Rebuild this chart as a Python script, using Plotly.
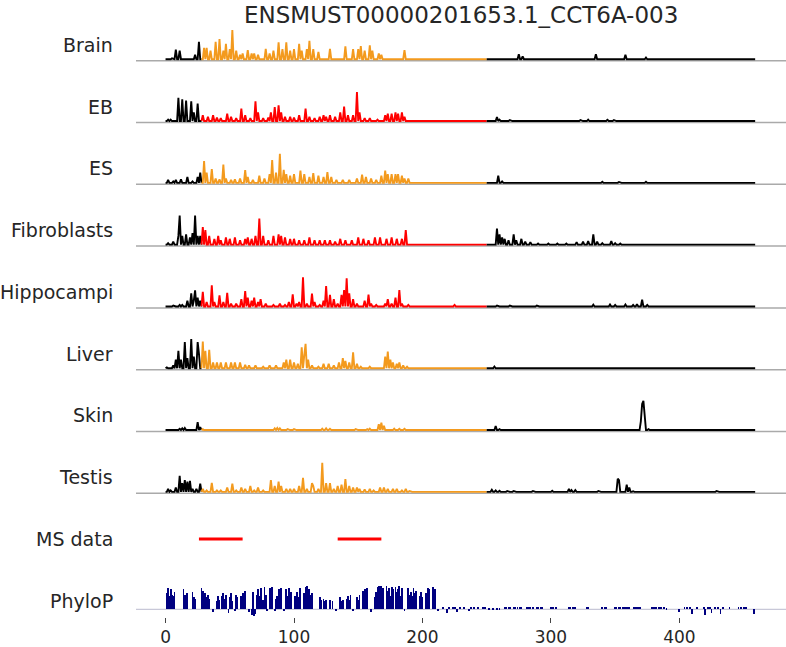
import numpy as np
import plotly.graph_objects as go

TITLE = "ENSMUST00000201653.1_CCT6A-003"
TRANSCRIPT_LEN = 460
ORF_START, ORF_END = 28, 250
TISSUES = ["Brain", "EB", "ES", "Fibroblasts", "Hippocampi", "Liver", "Skin", "Testis"]
ORANGE, RED = "#f39a1e", "#ff0000"
ORF_COLORS = [ORANGE, RED, ORANGE, RED, RED, ORANGE, ORANGE, ORANGE]
XTICKS = [0, 100, 200, 300, 400]

# ---- ribosome-profile read peaks (position, relative height) ----
BRAIN_POS = [5, 8, 11, 23, 26,
             30, 32, 35, 39, 42, 45, 47, 50, 52, 55, 58, 60, 64, 67, 69, 72, 78, 81, 84, 88, 91, 94, 97,
             100, 104, 106, 110, 112, 115, 119, 128, 140, 146, 150, 152, 155, 159, 161, 166, 168, 186,
             275, 278, 335, 358, 374]
BRAIN_VAL = [0.03, 0.33, 0.3, 0.15, 0.6,
             0.39, 0.39, 0.3, 0.6, 0.69, 0.3, 0.53, 0.35, 1.0, 0.3, 0.15, 0.2, 0.31, 0.2, 0.2, 0.15, 0.36, 0.2, 0.3, 0.58, 0.35, 0.58, 0.3,
             0.35, 0.53, 0.3, 0.35, 0.63, 0.35, 0.25, 0.36, 0.44, 0.35, 0.35, 0.45, 0.3, 0.48, 0.3, 0.2, 0.15, 0.31,
             0.17, 0.1, 0.17, 0.15, 0.06]

EB_POS = [2, 4, 10, 13, 16, 20, 22, 25,
          29, 33, 37, 40, 43, 48, 51, 55, 59, 62, 66, 70, 72, 76, 80, 82, 85, 88, 90, 93, 97, 100, 104, 109,
          112, 116, 120, 123, 125, 128, 132, 136, 139, 142, 146, 149, 151, 155, 159, 165, 171, 173, 176, 179,
          181, 184, 186,
          258, 260, 268, 276, 294, 323, 329, 344, 349, 364]
EB_VAL = [0.05, 0.05, 0.8, 0.75, 0.7, 0.68, 0.3, 0.6,
          0.2, 0.15, 0.2, 0.12, 0.1, 0.25, 0.15, 0.1, 0.43, 0.2, 0.1, 0.68, 0.3, 0.1, 0.12, 0.3, 0.48, 0.54, 0.3, 0.15, 0.15, 0.12, 0.2, 0.43,
          0.15, 0.1, 0.15, 0.2, 0.15, 0.2, 0.15, 0.3, 0.5, 0.2, 0.2, 1.0, 0.3, 0.1, 0.1, 0.05, 0.2, 0.25, 0.25, 0.3,
          0.25, 0.3, 0.15,
          0.14, 0.05, 0.03, 0.02, 0.02, 0.03, 0.05, 0.04, 0.03, 0.02]

ES_POS = [2, 6, 8, 12, 17, 21, 25, 27,
          30, 32, 36, 39, 42, 45, 47, 51, 54, 58, 62, 64, 68, 73, 77, 81, 83, 86, 89, 92, 94, 97, 100, 105,
          108, 112, 115, 119, 123, 126, 129, 133, 138, 143, 149, 153, 156, 160, 164, 168, 171, 173, 176, 179,
          181, 184, 186, 189, 210,
          259, 262, 280, 300, 320, 340, 353, 364, 374]
ES_VAL = [0.1, 0.05, 0.1, 0.12, 0.2, 0.05, 0.2, 0.35,
          0.75, 0.35, 0.47, 0.15, 0.12, 0.63, 0.15, 0.1, 0.12, 0.15, 0.44, 0.2, 0.1, 0.25, 0.15, 0.3, 0.78, 0.35, 1.0, 0.45, 0.3, 0.25, 0.3, 0.42,
          0.3, 0.2, 0.33, 0.25, 0.2, 0.37, 0.2, 0.1, 0.1, 0.1, 0.15, 0.28, 0.2, 0.15, 0.1, 0.25, 0.42, 0.3, 0.3, 0.3,
          0.3, 0.25, 0.15, 0.15, 0.02,
          0.25, 0.05, 0.02, 0.02, 0.02, 0.04, 0.03, 0.02, 0.04]

FIB_POS = [2, 6, 10, 11, 13, 16, 19, 21, 23, 25, 27,
           29, 31, 34, 38, 41, 43, 47, 50, 54, 58, 62, 64, 67, 70, 73, 76, 80, 84, 88, 90, 93, 97, 100, 104,
           108, 112, 116, 120, 124, 128, 132, 136, 140, 145, 150, 154, 158, 163, 167, 172, 176, 180, 184, 187,
           258, 260, 262, 264, 267, 271, 273, 277, 280, 284, 290, 298, 305, 312, 320, 325, 329, 333, 336, 340,
           347, 350, 354]
FIB_VAL = [0.05, 0.1, 0.3, 1.0, 0.3, 0.35, 0.25, 0.4, 1.0, 0.3, 0.3,
           0.6, 0.5, 0.3, 0.2, 0.3, 0.15, 0.25, 0.2, 0.25, 0.15, 0.2, 0.25, 0.2, 0.3, 0.9, 0.3, 0.15, 0.3, 0.35, 0.3, 0.25, 0.2, 0.2, 0.15,
           0.15, 0.25, 0.15, 0.15, 0.15, 0.15, 0.1, 0.2, 0.15, 0.15, 0.25, 0.2, 0.15, 0.25, 0.25, 0.2, 0.25, 0.2, 0.2, 0.5,
           0.55, 0.35, 0.25, 0.2, 0.15, 0.35, 0.15, 0.2, 0.1, 0.08, 0.04, 0.04, 0.04, 0.04, 0.08, 0.1, 0.12, 0.35, 0.1, 0.05,
           0.12, 0.05, 0.04]

HIP_POS = [2, 6, 11, 13, 17, 20, 22, 23, 25, 27,
           29, 32, 36, 38, 42, 45, 48, 51, 55, 59, 62, 64, 67, 69, 72, 74, 78, 84, 89, 93, 96, 99, 102, 104,
           107, 110, 114, 116, 120, 123, 125, 128, 131, 134, 137, 139, 141, 143, 146, 149, 155, 158, 160, 164,
           171, 173, 176, 179, 182, 184, 189, 225,
           258, 268, 279, 289, 299, 333, 346, 350, 358, 364, 367, 371, 375, 380]
HIP_VAL = [0.02, 0.03, 0.05, 0.05, 0.2, 0.45, 0.2, 0.55, 0.3, 0.2,
           0.5, 0.15, 0.73, 0.15, 0.38, 0.15, 0.47, 0.1, 0.1, 0.25, 0.53, 0.3, 0.2, 0.3, 0.15, 0.25, 0.1, 0.05, 0.1, 0.05, 0.15, 0.42, 0.1, 0.15,
           1.0, 0.1, 0.44, 0.15, 0.05, 0.2, 0.7, 0.4, 0.25, 0.1, 0.4, 0.56, 0.97, 0.45, 0.25, 0.1, 0.2, 0.41, 0.1, 0.05,
           0.1, 0.25, 0.1, 0.3, 0.56, 0.1, 0.05, 0.05,
           0.03, 0.03, 0.02, 0.03, 0.01, 0.06, 0.07, 0.05, 0.07, 0.05, 0.08, 0.23, 0.05, 0.02]

LIVER_POS = [1, 6, 8, 10, 12, 15, 17, 20, 22, 25, 26,
             29, 31, 34, 37, 40, 43, 47, 51, 54, 58, 62, 65, 70, 76, 81, 86, 92, 94, 97, 100, 103, 106, 108,
             109, 111, 114, 119, 123, 127, 131, 135, 138, 140, 143, 146, 149, 152, 159, 171, 173, 175, 177, 180,
             182, 185, 188,
             256, 270, 290, 310, 330, 350]
LIVER_VAL = [0.03, 0.1, 0.3, 0.6, 0.3, 0.9, 0.35, 1.0, 0.4, 0.9, 0.5,
             0.92, 0.6, 0.63, 0.2, 0.2, 0.2, 0.2, 0.2, 0.2, 0.2, 0.12, 0.1, 0.1, 0.05, 0.1, 0.1, 0.2, 0.3, 0.3, 0.2, 0.15, 0.72, 0.45,
             0.84, 0.3, 0.1, 0.05, 0.15, 0.15, 0.1, 0.2, 0.35, 0.25, 0.2, 0.55, 0.15, 0.05, 0.05, 0.4, 0.57, 0.3, 0.2, 0.15,
             0.2, 0.1, 0.05,
             0.06, 0.01, 0.01, 0.01, 0.01, 0.01]

SKIN_POS = [1, 6, 11, 13, 15, 25, 27,
            29, 40, 55, 70, 85, 87, 89, 95, 100, 122, 125, 128, 148, 157, 159, 166, 168, 170, 178, 182, 186,
            257, 260, 276, 296, 320, 335, 354, 370, 371, 372, 373, 376]
SKIN_VAL = [0.01, 0.02, 0.04, 0.06, 0.07, 0.27, 0.1,
            0.03, 0.02, 0.02, 0.02, 0.06, 0.07, 0.06, 0.03, 0.03, 0.05, 0.06, 0.04, 0.03, 0.03, 0.05, 0.2, 0.25, 0.15, 0.05, 0.04, 0.04,
            0.14, 0.03, 0.01, 0.01, 0.01, 0.01, 0.02, 0.3, 0.9, 1.0, 0.4, 0.03]

TESTIS_POS = [2, 4, 8, 11, 13, 15, 17, 19, 21, 24, 27,
              29, 32, 36, 40, 43, 48, 52, 55, 59, 62, 66, 69, 72, 76, 82, 85, 88, 90, 94, 97, 100, 104, 107,
              110, 114, 115, 119, 122, 125, 128, 131, 134, 137, 140, 143, 146, 149, 151, 155, 159, 162, 167, 170,
              173, 177, 180, 184, 187, 190,
              254, 257, 260, 266, 271, 277, 283, 286, 301, 314, 316, 319, 337, 352, 353, 359, 361, 364, 370, 429]
TESTIS_VAL = [0.1, 0.05, 0.15, 0.55, 0.3, 0.4, 0.35, 0.38, 0.1, 0.1, 0.28,
              0.1, 0.05, 0.31, 0.05, 0.05, 0.15, 0.28, 0.05, 0.15, 0.1, 0.2, 0.05, 0.15, 0.05, 0.4, 0.2, 0.35, 0.2, 0.1, 0.1, 0.1, 0.2, 0.48,
              0.1, 0.3, 0.2, 0.1, 1.0, 0.3, 0.3, 0.1, 0.2, 0.25, 0.44, 0.2, 0.15, 0.15, 0.1, 0.08, 0.1, 0.05, 0.15, 0.15,
              0.1, 0.1, 0.1, 0.05, 0.1, 0.03,
              0.07, 0.05, 0.04, 0.03, 0.03, 0.02, 0.02, 0.03, 0.04, 0.1, 0.06, 0.06, 0.03, 0.45, 0.4, 0.25, 0.15, 0.02, 0.02, 0.03]

PROFILES = [(BRAIN_POS, BRAIN_VAL), (EB_POS, EB_VAL), (ES_POS, ES_VAL), (FIB_POS, FIB_VAL),
            (HIP_POS, HIP_VAL), (LIVER_POS, LIVER_VAL), (SKIN_POS, SKIN_VAL), (TESTIS_POS, TESTIS_VAL)]

# ---- MS peptides (start, end) ----
MS_START = [26, 134]
MS_END = [60, 168]

# ---- PhyloP conservation scores ----
PHYLOP_POS = [1, 2, 3, 4, 5, 6, 7, 14, 15, 16, 17, 21, 22, 23, 28, 29, 30, 31, 32, 33, 34, 37, 40, 41, 42,
              44, 45, 46, 47, 49, 50, 51, 52, 54, 55, 56, 59, 60, 61, 62, 65, 67, 68, 69, 70, 71, 72, 73, 74,
              76, 77, 78, 79, 81, 82, 83, 85, 86, 87, 88, 89, 90, 92, 94, 95, 96, 97, 98, 101, 102, 103, 105,
              108, 109, 110, 111, 112, 113, 114, 120, 121, 123, 124, 125, 128, 130, 133, 136, 137, 138, 141,
              142, 143, 144, 146, 149, 150, 151, 154, 155, 156, 157, 160, 163, 164, 165, 166, 167, 168, 169,
              172, 173, 174, 175, 176, 177, 179, 180, 181, 182, 183, 184, 186, 189, 190, 191, 192, 193, 194,
              195, 198, 199, 200, 203, 204, 205, 208, 209, 210, 212,
              216, 219, 221, 224, 225, 227, 229, 232, 236, 238, 240, 243, 247, 249, 252, 255, 258, 260, 264,
              265, 267, 268, 271, 272, 274, 276, 277, 281, 282, 284, 286, 289, 290, 292, 293, 300, 301, 302,
              304, 314, 315, 317, 319, 328, 329, 340, 342, 343, 350, 351, 353, 354, 356, 358, 359, 361, 365,
              366, 368, 369, 379, 380, 382, 384, 386, 388, 390, 400, 404, 406, 408, 410, 414, 419, 420, 422,
              424, 425, 428, 430, 432, 434, 439, 446, 448, 450, 452, 458]
PHYLOP_VAL = [2.5, 3.2, 2.0, 3.0, 2.2, 2.0, 2.6, 3.0, 2.2, 1.6, 2.4, 2.6, 1.8, 1.5, 3.2, 2.8, 2.0, 2.4, 1.8, 2.2, 1.5, -0.4, 1.2, 2.0, 1.4,
              2.0, 2.4, 1.6, 2.2, -0.5, 1.8, 2.4, 1.2, -0.3, 2.2, 1.8, 2.0, 2.4, 1.8, 2.7, -0.4, -0.8, 2.6, -0.9, -0.7, 2.2, 3.0, 2.0, 3.2,
              1.4, 3.3, 2.2, -0.3, 3.2, 2.6, 3.3, -0.3, 1.6, 2.0, 3.0, 1.4, 3.2, -0.3, 3.0, 2.0, 3.2, 1.4, 2.6, 2.0, 2.6, 1.8, 3.2,
              2.4, 3.3, 3.4, 2.6, 3.0, 2.2, 2.4, 1.8, 1.4, 1.6, 1.2, 1.4, 1.4, 1.2, -0.3, 1.8, 1.2, 1.4, 1.6,
              2.0, 1.4, 2.2, -0.3, 1.8, 1.4, 2.2, 2.8, 3.0, 2.2, 3.2, -0.4, 1.8, 2.6, 3.3, 3.4, 2.0, 3.4, 3.2,
              3.4, 2.8, 3.2, 2.0, 3.3, 3.0, 3.3, 2.6, 3.0, 3.4, 2.0, 3.2, -0.3, 3.2, 2.2, 2.6, 2.0, 3.2, 2.4,
              2.8, 2.0, 2.6, 1.8, 2.4, 3.2, 3.0, 3.3, 2.2, 3.0, -0.2,
              0.3, -0.5, 0.4, 0.3, 0.4, -0.4, 0.4, 0.3, -0.3, 0.3, 0.3, 0.4, 0.3, 0.3, 0.2, 0.2, 0.2, 0.2, 0.3,
              0.3, 0.3, 0.3, 0.3, 0.3, 0.3, 0.3, 0.3, 0.3, 0.3, 0.3, 0.3, 0.3, 0.3, 0.3, 0.3, 0.3, 0.3, 0.3,
              0.3, 0.3, 0.3, 0.3, 0.3, 0.3, 0.3, 0.3, 0.3, 0.3, 0.3, 0.3, 0.3, 0.3, 0.3, 0.3, 0.4, 0.3, 0.3,
              0.4, 0.4, 0.3, 0.3, 0.3, 0.3, 0.3, 0.3, 0.3, 0.2, -0.4, 0.3, 0.3, 0.3, -0.6, 0.3, 0.3, -0.8, 0.3,
              0.3, -0.5, 0.3, 0.3, -0.6, 0.3, 0.4, 0.3, 0.4, 0.3, 0.3, -0.6]

# ---------------------------------------------------------------------
W, H = 786, 647
PLOT_LEFT = 136
PW = W - PLOT_LEFT
ROW_H = 32
ROW_STEP = 61.8
FIRST_BOTTOM = 60.7
TEXT = "#262626"
GREY = "#aaaaaa"
FONT = "DejaVu Sans"


def px_to_fy(py):
    return 1 - py / H


def px_to_fx(px):
    return (px - PLOT_LEFT) / PW


def profile(pos, val):
    arr = np.zeros(TRANSCRIPT_LEN)
    for p, v in zip(pos, val):
        arr[p] = max(arr[p], v)
    return arr


fig = go.Figure()
layout = {}
shapes = []
annotations = []
xs = np.arange(TRANSCRIPT_LEN)

for i in range(10):
    bottom = FIRST_BOTTOM + i * ROW_STEP
    top = bottom - ROW_H
    key = "yaxis" if i == 0 else f"yaxis{i + 1}"
    yref = "y" if i == 0 else f"y{i + 1}"
    layout[key] = dict(domain=[px_to_fy(bottom), px_to_fy(top)], visible=False,
                       anchor="x", fixedrange=True, showgrid=False, zeroline=False)
    if i < 8:
        pos, val = PROFILES[i]
        arr = profile(pos, val)
        m = max(val)
        layout[key]["range"] = [-0.05 * m, 1.05 * m]
        segs = [(0, ORF_START, "black"), (ORF_START, ORF_END, ORF_COLORS[i]),
                (ORF_END, TRANSCRIPT_LEN - 1, "black")]
        for a, b, c in segs:
            fig.add_trace(go.Scatter(x=xs[a:b + 1], y=arr[a:b + 1], mode="lines",
                                     line=dict(color=c, width=1.9), xaxis="x", yaxis=yref,
                                     hoverinfo="skip"))
        shapes.append(dict(type="line", xref="paper", yref="paper", x0=0, x1=1,
                           y0=px_to_fy(bottom), y1=px_to_fy(bottom),
                           line=dict(color=GREY, width=1.5), layer="below"))
        label = TISSUES[i]
    elif i == 8:
        layout[key]["range"] = [-1, 1]
        for s, e in zip(MS_START, MS_END):
            fig.add_trace(go.Scatter(x=[s, e], y=[0, 0], mode="lines",
                                     line=dict(color=RED, width=3), xaxis="x", yaxis=yref,
                                     hoverinfo="skip"))
        label = "MS data"
    else:
        lo, hi = min(PHYLOP_VAL), max(PHYLOP_VAL)
        r = hi - lo
        layout[key]["range"] = [lo - 0.05 * r, hi + 0.05 * r]
        fig.add_trace(go.Bar(x=PHYLOP_POS, y=PHYLOP_VAL, width=0.7,
                             marker=dict(color="#000080", line=dict(width=0)),
                             xaxis="x", yaxis=yref, hoverinfo="skip"))
        shapes.append(dict(type="line", xref="paper", yref=yref, x0=0, x1=1, y0=0, y1=0,
                           line=dict(color="#c8c8d8", width=1.2), layer="below"))
        label = "PhyloP"
    annotations.append(dict(text=label, xref="paper", yref="paper",
                            x=px_to_fx(115), y=px_to_fy(bottom - ROW_H / 2),
                            xanchor="right", yanchor="middle", showarrow=False,
                            font=dict(family=FONT, size=19, color=TEXT)))

annotations.append(dict(text=TITLE, xref="paper", yref="paper", x=0.5, y=1.0,
                        xanchor="center", yanchor="top", showarrow=False,
                        font=dict(family=FONT, size=23, color=TEXT)))

fig.update_layout(
    width=W, height=H,
    margin=dict(l=PLOT_LEFT, r=0, t=0, b=0),
    paper_bgcolor="white", plot_bgcolor="white",
    showlegend=False,
    bargap=0,
    xaxis=dict(domain=[0, 1], anchor="y10", range=[-23, 483], tickvals=XTICKS,
               ticks="outside", ticklen=5, tickwidth=1, tickcolor="#444444",
               ticklabelstandoff=0,
               showline=False, showgrid=False, zeroline=False, automargin=False,
               tickfont=dict(family=FONT, size=17, color=TEXT), fixedrange=True),
    shapes=shapes, annotations=annotations,
    font=dict(family=FONT, color=TEXT),
    **layout,
)

# the page's default 8px body margin would shift the figure; remove it
fig.write_html("out.html", config={"displayModeBar": False},
               post_script="document.body.style.margin='0px';")
